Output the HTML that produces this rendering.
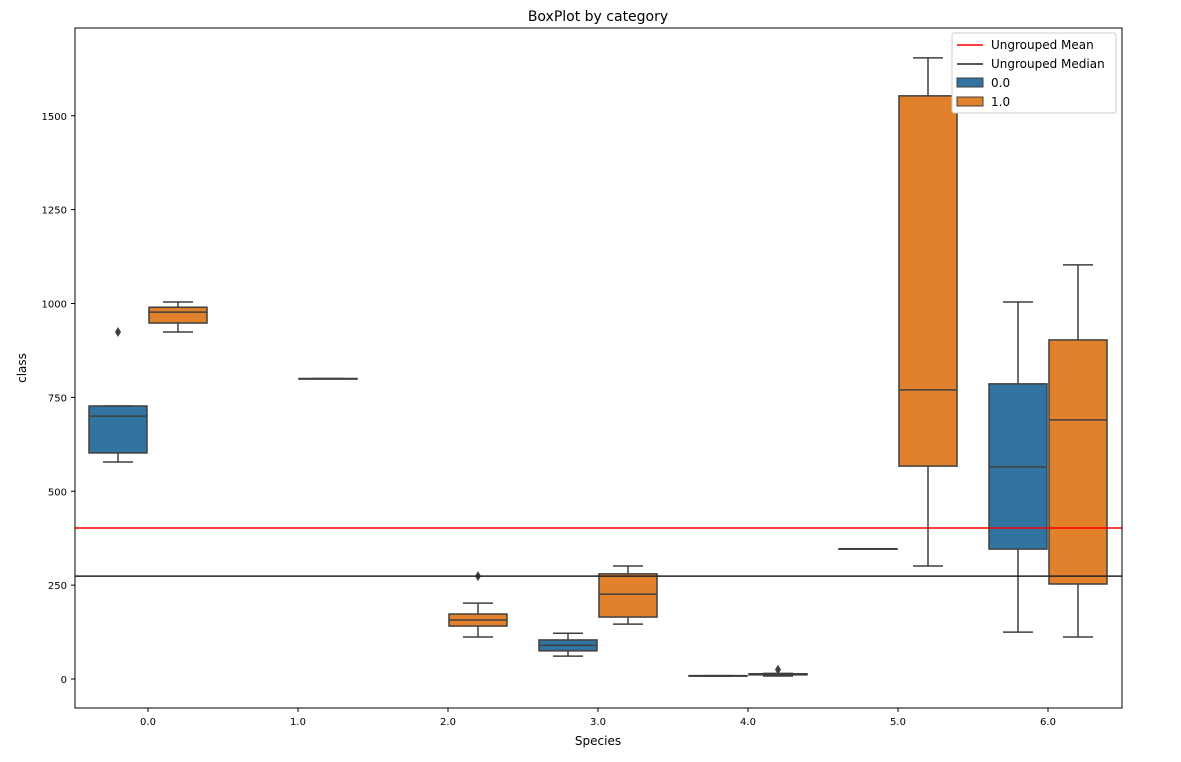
<!DOCTYPE html>
<html><head><meta charset="utf-8"><style>
body{margin:0;background:#fff;font-family:"Liberation Sans","DejaVu Sans",sans-serif}
svg text{font-family:"DejaVu Sans","Liberation Sans",sans-serif}
</style></head><body>
<svg id="chart" width="1181" height="757" xmlns="http://www.w3.org/2000/svg">
<text x="598" y="21" font-size="14" text-anchor="middle">BoxPlot by category</text>
<text x="598" y="745" font-size="12" text-anchor="middle">Species</text>
<text transform="translate(26,368) rotate(-90)" font-size="12" text-anchor="middle">class</text>
<g id="marks"></g>
<rect x="75" y="28" width="1047" height="680" fill="none" stroke="#000" stroke-width="1"/>
<g>
<rect x="952" y="33" width="164" height="80" fill="#fff" stroke="#ccc" rx="2"/>
<line x1="957" y1="45" x2="983" y2="45" stroke="#ff0000" stroke-width="1.5"/>
<text x="991" y="49" font-size="12">Ungrouped Mean</text>
<line x1="957" y1="64" x2="983" y2="64" stroke="#222" stroke-width="1.5"/>
<text x="991" y="68" font-size="12">Ungrouped Median</text>
<rect x="957" y="78" width="26" height="9" fill="#3274a1" stroke="#3f3f3f"/>
<text x="991" y="87" font-size="12">0.0</text>
<rect x="957" y="97" width="26" height="9" fill="#e1812c" stroke="#3f3f3f"/>
<text x="991" y="106" font-size="12">1.0</text>
</g>
</svg>
<script>
const categories=["0.0","1.0","2.0","3.0","4.0","5.0","6.0"];
const yTicks=[0,250,500,750,1000,1250,1500];
const hues=["0.0","1.0"];
// each box: [categoryIndex, hueIndex, low, q1, median, q3, high]
const boxStats=[
[0,0,578,602,700,727,727],
[0,1,924,948,977,990,1004],
[1,1,800,800,800,800,800],
[2,1,112,141,157,173,202],
[3,0,61,75,90,104,122],
[3,1,146,165,226,280,301],
[4,0,8,8,8,9,9],
[4,1,8,11,12,14,15],
[5,0,347,347,347,347,347],
[5,1,301,567,770,1553,1654],
[6,0,125,346,565,786,1004],
[6,1,112,253,690,903,1103]
];
// outliers: [categoryIndex, hueIndex, value]
const outliers=[[0,0,924],[2,1,274],[4,1,25]];
const meanValue=402;
const medianValue=274;
const NS="http://www.w3.org/2000/svg";
const X0=75,X1=1122;
const xScale=i=>148+i*150;
const yScale=v=>679-v*0.3755;
const colors=["#3274a1","#e1812c"];
const svg=document.getElementById('chart');
const g=document.getElementById('marks');
function mk(tag,attrs,parent){const e=document.createElementNS(NS,tag);for(const k in attrs)e.setAttribute(k,attrs[k]);(parent||g).appendChild(e);return e;}
yTicks.forEach(t=>{
 const y=yScale(t);
 const l=mk('line',{x1:X0-4,x2:X0,y1:y,y2:y,stroke:'#000'},svg);
 
 
 const tx=mk('text',{x:X0-8,y:y+4,'font-size':10,'text-anchor':'end'},svg);tx.textContent=t;
 
 
});
categories.forEach((c,i)=>{
 const x=xScale(i);
 const l=mk('line',{x1:x,x2:x,y1:708,y2:712,stroke:'#000'},svg);
 
 
 const tx=mk('text',{x:x,y:725,'font-size':10,'text-anchor':'middle'},svg);tx.textContent=c;
 
 
});
const st='#3f3f3f';
boxStats.forEach(b=>{
 const [ci,hi,lo,q1,md,q3,hiV]=b;
 const cx=xScale(ci)+(hi===0?-30:30);
 const w=58;
 const grp=mk('g',{});
 
 
 mk('line',{x1:cx,x2:cx,y1:yScale(hiV),y2:yScale(q3),stroke:st,'stroke-width':1.5},grp);
 mk('line',{x1:cx,x2:cx,y1:yScale(q1),y2:yScale(lo),stroke:st,'stroke-width':1.5},grp);
 mk('line',{x1:cx-15,x2:cx+15,y1:yScale(hiV),y2:yScale(hiV),stroke:st,'stroke-width':1.5},grp);
 mk('line',{x1:cx-15,x2:cx+15,y1:yScale(lo),y2:yScale(lo),stroke:st,'stroke-width':1.5},grp);
 mk('rect',{x:cx-w/2,y:yScale(q3),width:w,height:Math.max(yScale(q1)-yScale(q3),0.5),fill:colors[hi],stroke:st,'stroke-width':1.5},grp);
 mk('line',{x1:cx-w/2,x2:cx+w/2,y1:yScale(md),y2:yScale(md),stroke:st,'stroke-width':1.5},grp);
});
outliers.forEach(o=>{
 const cx=xScale(o[0])+(o[1]===0?-30:30),y=yScale(o[2]);
 const p=mk('path',{d:`M${cx},${y-5}L${cx+3},${y}L${cx},${y+5}L${cx-3},${y}Z`,fill:st});
 
 
});
const ml=mk('line',{x1:X0,x2:X1,y1:yScale(meanValue),y2:yScale(meanValue),stroke:'#ff0000','stroke-width':1.5});


const dl=mk('line',{x1:X0,x2:X1,y1:yScale(medianValue),y2:yScale(medianValue),stroke:'#222','stroke-width':1.5});


</script>
</body></html>
